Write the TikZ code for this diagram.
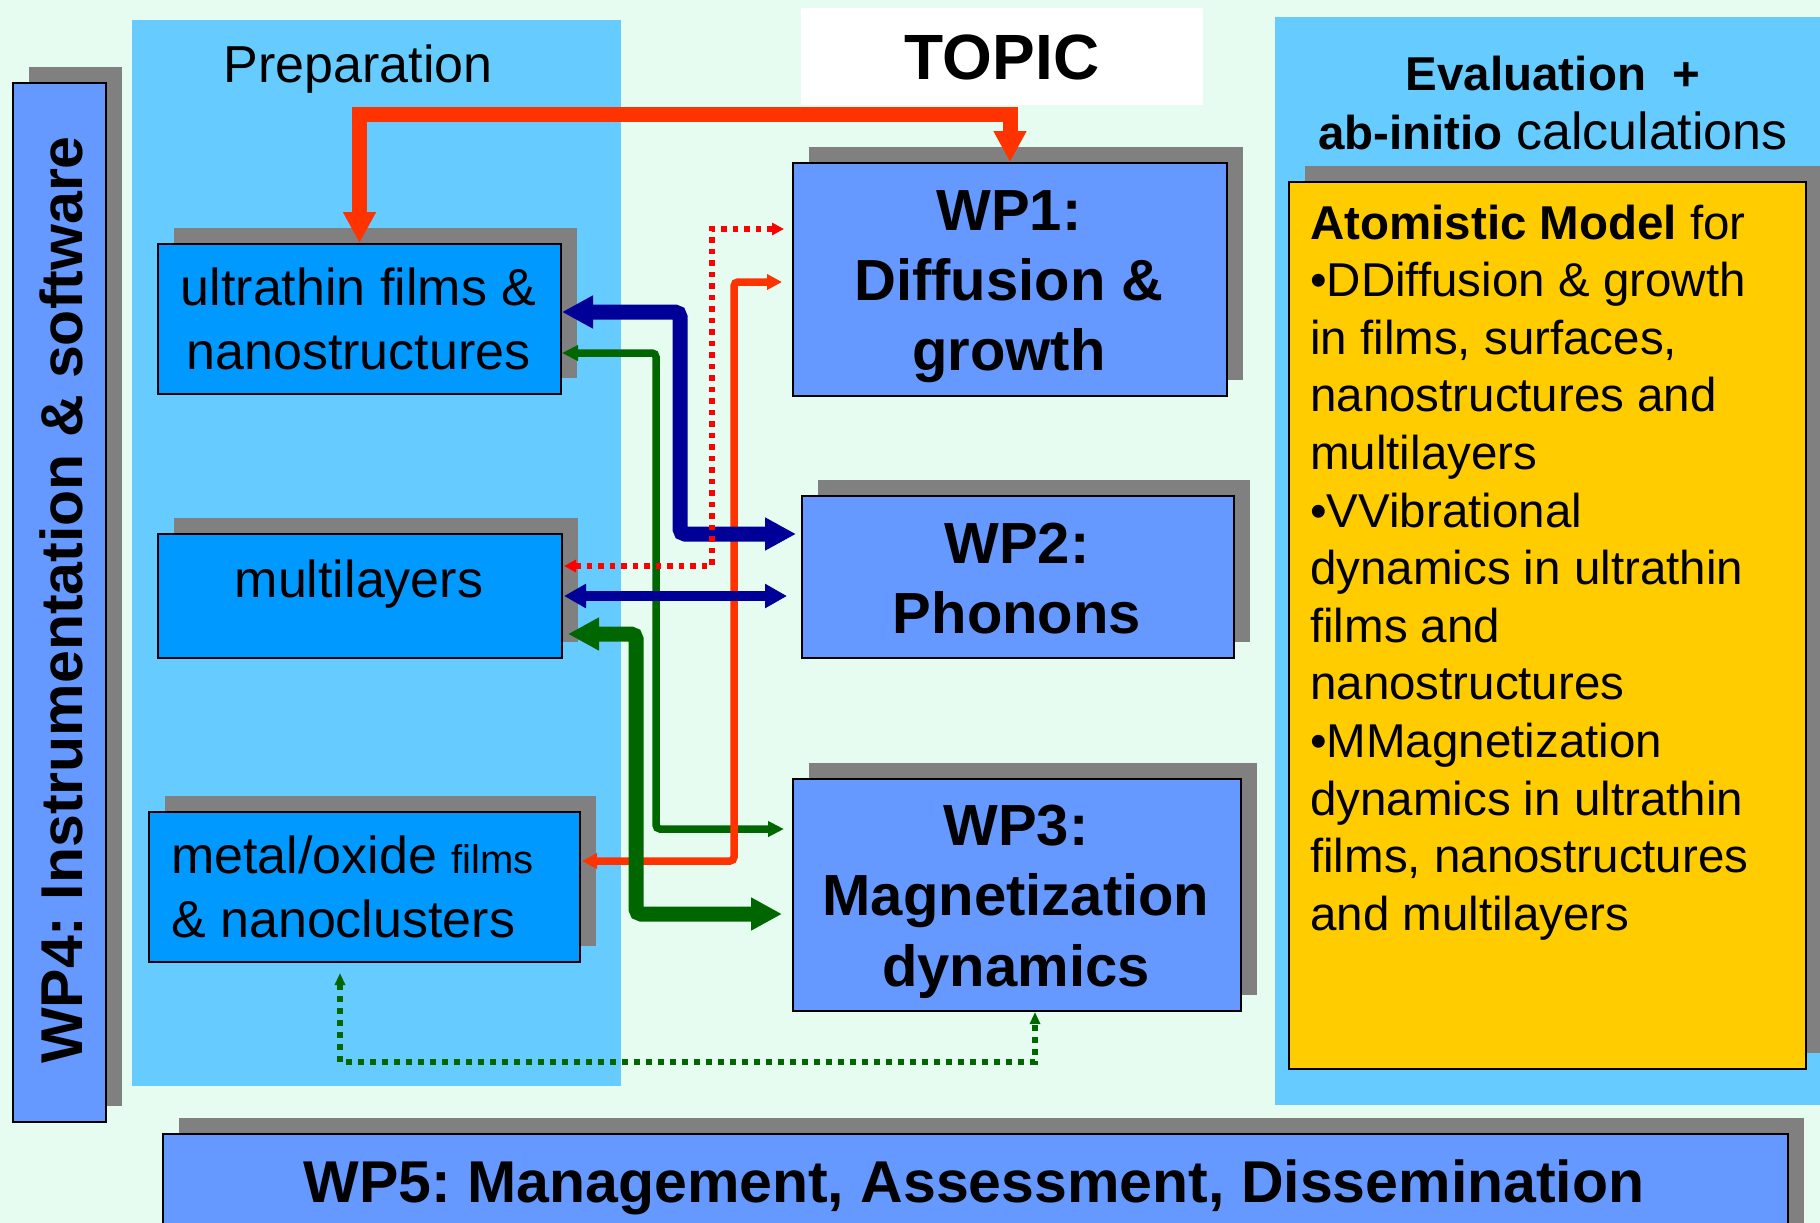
\documentclass[tikz,border=0pt]{standalone}
\usepackage{fontspec}
\setmainfont{Liberation Sans}
\usetikzlibrary{arrows.meta,shadows,calc}

\definecolor{mint}{RGB}{230,252,240}
\definecolor{panelblue}{RGB}{102,204,255}
\definecolor{prepbox}{RGB}{0,153,255}
\definecolor{wpblue}{RGB}{102,153,255}
\definecolor{gold}{RGB}{255,204,0}
\definecolor{shade}{RGB}{128,128,128}
\definecolor{flame}{RGB}{255,51,0}
\definecolor{navy}{RGB}{0,0,153}
\definecolor{forest}{RGB}{0,102,0}
\definecolor{brightred}{RGB}{255,0,0}

\newcommand\fsz[2]{\fontsize{#1}{#2}\selectfont}
\newcommand\linesof[2][c]{\begin{tabular}[t]{@{}#1@{}}#2\end{tabular}}
\frenchspacing

\begin{document}
\begin{tikzpicture}[x=1pt,y=-1pt,
  panel/.style={fill=panelblue,draw=none,anchor=north west,inner sep=0},
  card/.style={draw=black,line width=2pt,anchor=north west,inner sep=0,
    drop shadow={shadow xshift=16pt,shadow yshift=16pt,fill=shade,opacity=1}},
  txt/.style={inner sep=0,anchor=base,text=black},
  thickred/.style={draw=flame,line width=15pt,
    arrows={Triangle[width=31pt,length=31pt]-Triangle[width=31pt,length=31pt]}},
  thickblue/.style={draw=navy,line width=15pt,rounded corners=5pt,
    arrows={Triangle[width=31pt,length=31pt]-Triangle[width=31pt,length=31pt]}},
  thickgreen/.style={draw=forest,line width=15pt,rounded corners=5pt,
    arrows={Triangle[width=31pt,length=31pt]-Triangle[width=31pt,length=31pt]}},
  midblue/.style={draw=navy,line width=10pt,
    arrows={Triangle[width=23pt,length=22pt]-Triangle[width=23pt,length=22pt]}},
  thingreen/.style={draw=forest,line width=7.5pt,rounded corners=4pt,
    arrows={Triangle[width=15pt,length=16pt]-Triangle[width=15pt,length=16pt]}},
  thinred/.style={draw=flame,line width=7.5pt,rounded corners=4pt,
    arrows={Triangle[width=15pt,length=15pt]-Triangle[width=15pt,length=15pt]}},
  dotred/.style={draw=brightred,line width=5.5pt,dash pattern=on 5.5pt off 6pt,
    arrows={Triangle[width=12pt,length=12pt]-Triangle[width=12pt,length=12pt]}},
  dotgreen/.style={draw=forest,line width=5.5pt,dash pattern=on 5.5pt off 6.5pt,
    arrows={Triangle[width=10pt,length=12pt]-Triangle[width=10pt,length=12pt]}}
]
\useasboundingbox (0,0) rectangle (1820,1223);
\clip (0,0) rectangle (1820,1223);
\fill[mint] (0,0) rectangle (1820,1223);

% panels
\node[panel,minimum width=489pt,minimum height=1066pt] (prep) at (132,20) {};
\node[panel,minimum width=560pt,minimum height=1088pt] (eval) at (1275,17) {};
\node[fill=white,anchor=north west,inner sep=0,minimum width=402pt,minimum height=97pt] (topicbox) at (801,8) {};

% boxes
\node[card,fill=wpblue,minimum width=93pt,minimum height=1039pt] (wp4) at (12,82) {};
\node[card,fill=prepbox,minimum width=403pt,minimum height=150pt] (ult) at (157,243) {};
\node[card,fill=prepbox,minimum width=404pt,minimum height=124pt] (ml) at (157,533) {};
\node[card,fill=prepbox,minimum width=431pt,minimum height=150pt] (mo) at (148,811) {};
\node[card,fill=wpblue,minimum width=434pt,minimum height=233pt] (wp1) at (792,162) {};
\node[card,fill=wpblue,minimum width=432pt,minimum height=162pt] (wp2) at (801,495) {};
\node[card,fill=wpblue,minimum width=448pt,minimum height=232pt] (wp3) at (792,778) {};
\node[card,fill=gold,minimum width=517pt,minimum height=887pt] (atom) at (1288,181) {};
\node[card,fill=wpblue,minimum width=1625pt,minimum height=140pt] (wp5) at (162,1133) {};

% connectors
\coordinate (gv) at (656,0);
\coordinate (g1) at ([yshift=-34pt]ult.east);
\coordinate (g2) at ([xshift=-8pt,yshift=66pt]wp3.west);
\draw[thingreen] (g1) -- (g1 -| gv) -- (g2 -| gv) -- (g2);

\coordinate (rv) at (734,0);
\coordinate (r1) at ([xshift=-10pt,yshift=-2.5pt]wp1.west);
\coordinate (r2) at ([xshift=1pt,yshift=26pt]mo.east);
\draw[thinred] (r1) -- (r1 -| rv) -- (r2 -| rv) -- (r2);

\coordinate (bv) at (680,0);
\coordinate (b1) at ([yshift=7pt]ult.east);
\coordinate (b2) at ([xshift=-5pt,yshift=43pt]wp2.west);
\draw[thickblue] (b1) -- (b1 -| bv) -- (b2 -| bv) -- (b2);

\coordinate (m1) at ([xshift=1pt]ml.east);
\coordinate (m2) at ($(ml.east -| wp2.west)+(-14,0)$);
\draw[midblue] (m1) -- (m2);

\coordinate (nv) at (636,0);
\coordinate (n1) at ([xshift=5pt,yshift=-38pt]ml.east);
\coordinate (n2) at ([xshift=-10pt,yshift=-19pt]wp3.west);
\draw[thickgreen] (n1) -- (n1 -| nv) -- (n2 -| nv) -- (n2);

\coordinate (dv) at (712,0);
\coordinate (d1) at ([xshift=-8pt,yshift=50.5pt]wp1.west);
\coordinate (d2) at ([xshift=1pt,yshift=30pt]ml.east);
\draw[dotred] (d1) -- (d1 -| dv) -- (d2 -| dv) -- (d2);

\coordinate (rbar) at (0,114);
\draw[thickred] (ult.north) -- (ult.north |- rbar) -- (wp1.north |- rbar) -- (wp1.north);

\coordinate (oh) at (0,1062);
\coordinate (o1) at ([xshift=-24.5pt,yshift=-10pt]mo.south);
\coordinate (o2) at ([xshift=18pt]wp3.south);
\draw[dotgreen] (o1) -- (o1 |- oh) -- (o2 |- oh) -- (o2);

% texts
\node[txt,font=\fsz{52}{62}] (preptitle) at (358,82) {Preparation};
\node[txt,font=\fsz{64}{70}\bfseries] (topic) at (1002,80) {TOPIC};
\node[txt,font=\fsz{47.5}{59}] (evaltitle) at (1553,90)
  {\linesof{\textbf{Evaluation~~+}\\\textbf{ab-initio} {\fsz{52}{59}calculations}}};
\node[txt,font=\fsz{52}{64}] (ulttxt) at (358.5,305) {\linesof{ultrathin films \&\\nanostructures}};
\node[txt,font=\fsz{52}{64}] (mltxt) at (359,597) {multilayers};
\node[txt,anchor=base west,font=\fsz{52}{64}] (motxt) at (171,873)
  {\linesof[l]{metal/oxide {\fsz{40}{64}films}\\\& nanoclusters}};
\node[txt,font=\fsz{58}{70}\bfseries] (wp1txt) at (1009,230) {\linesof{WP1:\\Diffusion \&\\growth}};
\node[txt,font=\fsz{58}{70}\bfseries] (wp2txt) at (1017,563) {\linesof{WP2:\\Phonons}};
\node[txt,font=\fsz{58}{70.5}\bfseries] (wp3txt) at (1016,845) {\linesof{WP3:\\Magnetization\\dynamics}};
\node[txt,rotate=90,font=\fsz{59}{70}\bfseries] (wp4txt) at (82,600) {WP4: Instrumentation \& software};
\node[txt,font=\fsz{59}{70}\bfseries] (wp5txt) at (974,1202) {WP5: Management, Assessment, Dissemination};
\node[txt,anchor=base west,font=\fsz{47.5}{57.6}] (atomtxt) at (1310,239)
  {\linesof[l]{\textbf{Atomistic Model} for\\
   •DDiffusion \& growth\\
   in films, surfaces,\\
   nanostructures and\\
   multilayers\\
   •VVibrational\\
   dynamics in ultrathin\\
   films and\\
   nanostructures\\
   •MMagnetization\\
   dynamics in ultrathin\\
   films, nanostructures\\
   and multilayers}};
\end{tikzpicture}
\end{document}
